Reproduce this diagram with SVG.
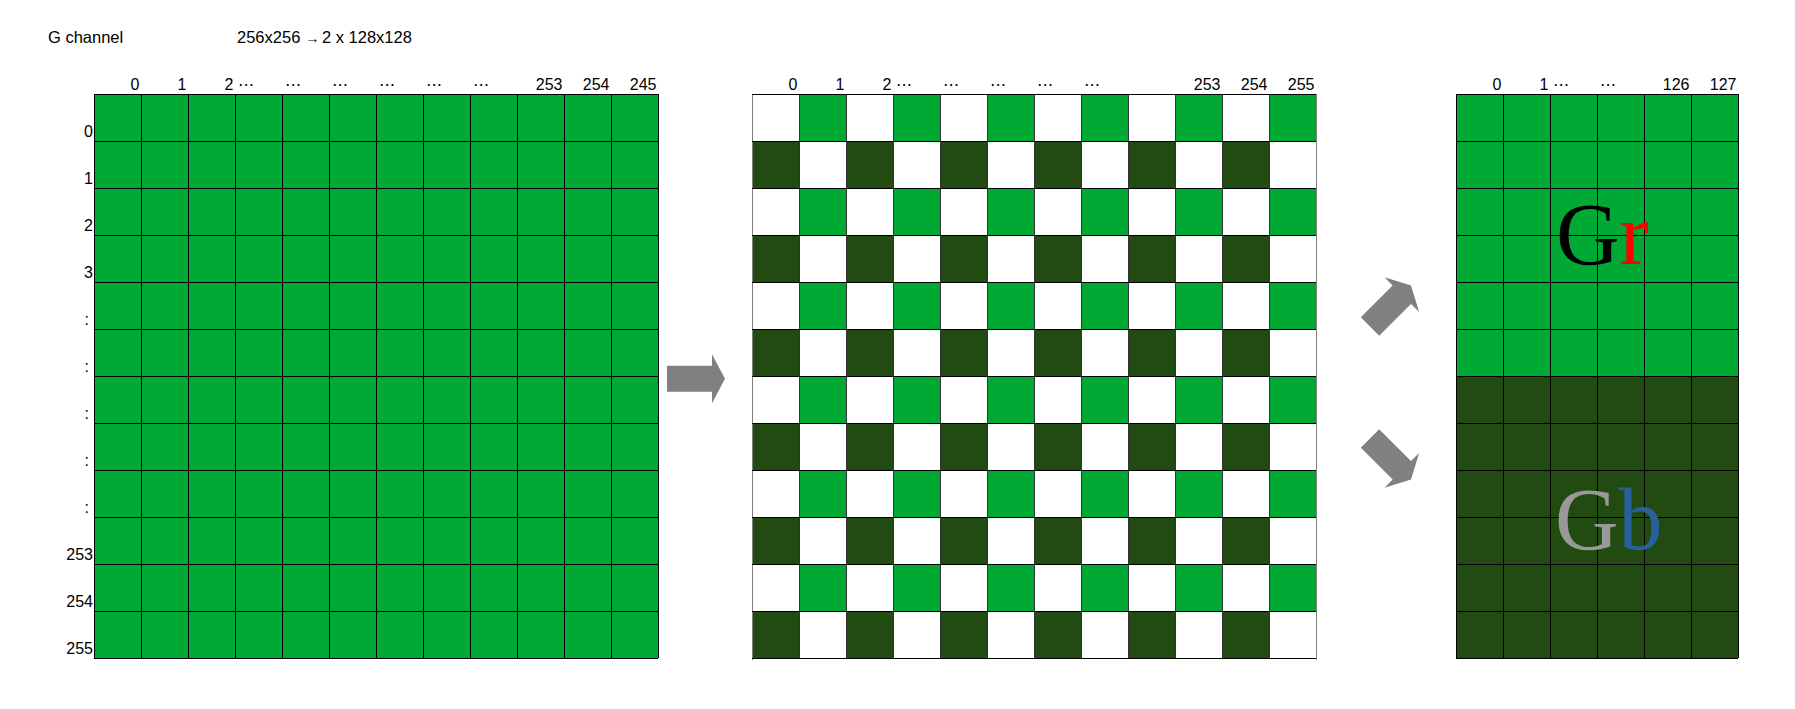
<svg xmlns="http://www.w3.org/2000/svg" xmlns:xlink="http://www.w3.org/1999/xlink" width="1795" height="709" viewBox="0 0 1795 709">
<style>
.lbl{font-family:"Liberation Sans","DejaVu Sans",sans-serif;font-size:16px;fill:#000}
.end{text-anchor:end}
.dots{font-family:"DejaVu Sans","Liberation Sans",sans-serif;font-size:16px;fill:#000}
.hdr{font-family:"Liberation Sans","DejaVu Sans",sans-serif;font-size:16.5px;fill:#000}
.grid{fill:none;stroke:#000;stroke-width:1;shape-rendering:crispEdges}
.vgrid{fill:none;stroke:#333;stroke-width:1;shape-rendering:crispEdges}
.edge{fill:none;stroke:#808080;stroke-width:1;shape-rendering:crispEdges}
.big{font-family:"Liberation Serif","DejaVu Serif",serif;font-size:88px}
.arrow{fill:#808080}
</style>
<defs>
<pattern id="checker" patternUnits="userSpaceOnUse" x="752" y="94" width="94" height="94">
<rect x="0" y="0" width="94" height="94" fill="#ffffff"/>
<rect x="47" y="0" width="47" height="47" fill="#00a933"/>
<rect x="0" y="47" width="47" height="47" fill="#224b12"/>
</pattern>
<path id="blockArrow" d="M-29,-13 H16 V-24.5 L29,0 L16,24.5 V13 H-29 Z"/>
</defs>
<rect width="1795" height="709" fill="#ffffff"/>

<g id="header">
<text class="hdr" x="48" y="43">G channel</text>
<text class="hdr" x="237" y="43">256x256 <tspan x="305.5" font-size="14px">→</tspan><tspan x="322">2 x 128x128</tspan></text>
</g>

<g id="left-grid">
<rect x="94" y="94" width="564" height="564" fill="#00a933"/>
<path class="grid" d="M94 94H658M94 141H658M94 188H658M94 235H658M94 282H658M94 329H658M94 376H658M94 423H658M94 470H658M94 517H658M94 564H658M94 611H658M94 658H658"/>
<path class="grid" d="M94 94V658M141 94V658M188 94V658M235 94V658M282 94V658M329 94V658M376 94V658M423 94V658M470 94V658M517 94V658M564 94V658M611 94V658M658 94V658"/>
<text class="lbl end" x="139.5" y="90">0</text>
<text class="lbl end" x="186.5" y="90">1</text>
<text class="lbl end" x="233.5" y="90">2</text>
<text class="dots" x="238" y="90">⋯</text>
<text class="dots" x="285" y="90">⋯</text>
<text class="dots" x="332" y="90">⋯</text>
<text class="dots" x="379" y="90">⋯</text>
<text class="dots" x="426" y="90">⋯</text>
<text class="dots" x="473" y="90">⋯</text>
<text class="lbl end" x="562.5" y="90">253</text>
<text class="lbl end" x="609.5" y="90">254</text>
<text class="lbl end" x="656.5" y="90">245</text>
<text class="lbl end" x="93" y="137">0</text>
<text class="lbl end" x="93" y="184">1</text>
<text class="lbl end" x="93" y="231">2</text>
<text class="lbl end" x="93" y="278">3</text>
<text class="lbl end" x="89" y="325">:</text>
<text class="lbl end" x="89" y="372">:</text>
<text class="lbl end" x="89" y="419">:</text>
<text class="lbl end" x="89" y="466">:</text>
<text class="lbl end" x="89" y="513">:</text>
<text class="lbl end" x="93" y="560">253</text>
<text class="lbl end" x="93" y="607">254</text>
<text class="lbl end" x="93" y="654">255</text>
</g>

<g id="middle-grid">
<rect x="752" y="94" width="564" height="564" fill="url(#checker)"/>
<path class="vgrid" d="M799 94V658M846 94V658M893 94V658M940 94V658M987 94V658M1034 94V658M1081 94V658M1128 94V658M1175 94V658M1222 94V658M1269 94V658"/>
<path class="edge" d="M752 94V660M1316 94V660"/>
<path class="grid" d="M752 94H1316M752 141H1316M752 188H1316M752 235H1316M752 282H1316M752 329H1316M752 376H1316M752 423H1316M752 470H1316M752 517H1316M752 564H1316M752 611H1316M752 658H1316"/>
<text class="lbl end" x="797.5" y="90">0</text>
<text class="lbl end" x="844.5" y="90">1</text>
<text class="lbl end" x="891.5" y="90">2</text>
<text class="dots" x="896" y="90">⋯</text>
<text class="dots" x="943" y="90">⋯</text>
<text class="dots" x="990" y="90">⋯</text>
<text class="dots" x="1037" y="90">⋯</text>
<text class="dots" x="1084" y="90">⋯</text>
<text class="lbl end" x="1220.5" y="90">253</text>
<text class="lbl end" x="1267.5" y="90">254</text>
<text class="lbl end" x="1314.5" y="90">255</text>
</g>

<g id="right-grid">
<rect x="1456" y="94" width="282" height="282" fill="#00a933"/>
<rect x="1456" y="376" width="282" height="282" fill="#224b12"/>
<path class="grid" d="M1456 94H1738M1456 141H1738M1456 188H1738M1456 235H1738M1456 282H1738M1456 329H1738M1456 376H1738M1456 423H1738M1456 470H1738M1456 517H1738M1456 564H1738M1456 611H1738M1456 658H1738"/>
<path class="grid" d="M1456 94V658M1503 94V658M1550 94V658M1597 94V658M1644 94V658M1691 94V658M1738 94V658"/>
<text class="lbl end" x="1501.5" y="90">0</text>
<text class="lbl end" x="1548.5" y="90">1</text>
<text class="dots" x="1553" y="90">⋯</text>
<text class="dots" x="1600" y="90">⋯</text>
<text class="lbl end" x="1689.5" y="90">126</text>
<text class="lbl end" x="1736.5" y="90">127</text>
<text class="big" x="1556" y="263.5"><tspan fill="#000000">G</tspan><tspan fill="#ff0000">r</tspan></text>
<text class="big" x="1555" y="548.5"><tspan fill="#999999">G</tspan><tspan fill="#2a6099">b</tspan></text>
</g>

<g id="connectors">
<use xlink:href="#blockArrow" href="#blockArrow" class="arrow" transform="translate(696,378.7)"/>
<use xlink:href="#blockArrow" href="#blockArrow" class="arrow" transform="translate(1390.5,306) rotate(-45)"/>
<use xlink:href="#blockArrow" href="#blockArrow" class="arrow" transform="translate(1390.5,459) rotate(45)"/>
</g>
</svg>
